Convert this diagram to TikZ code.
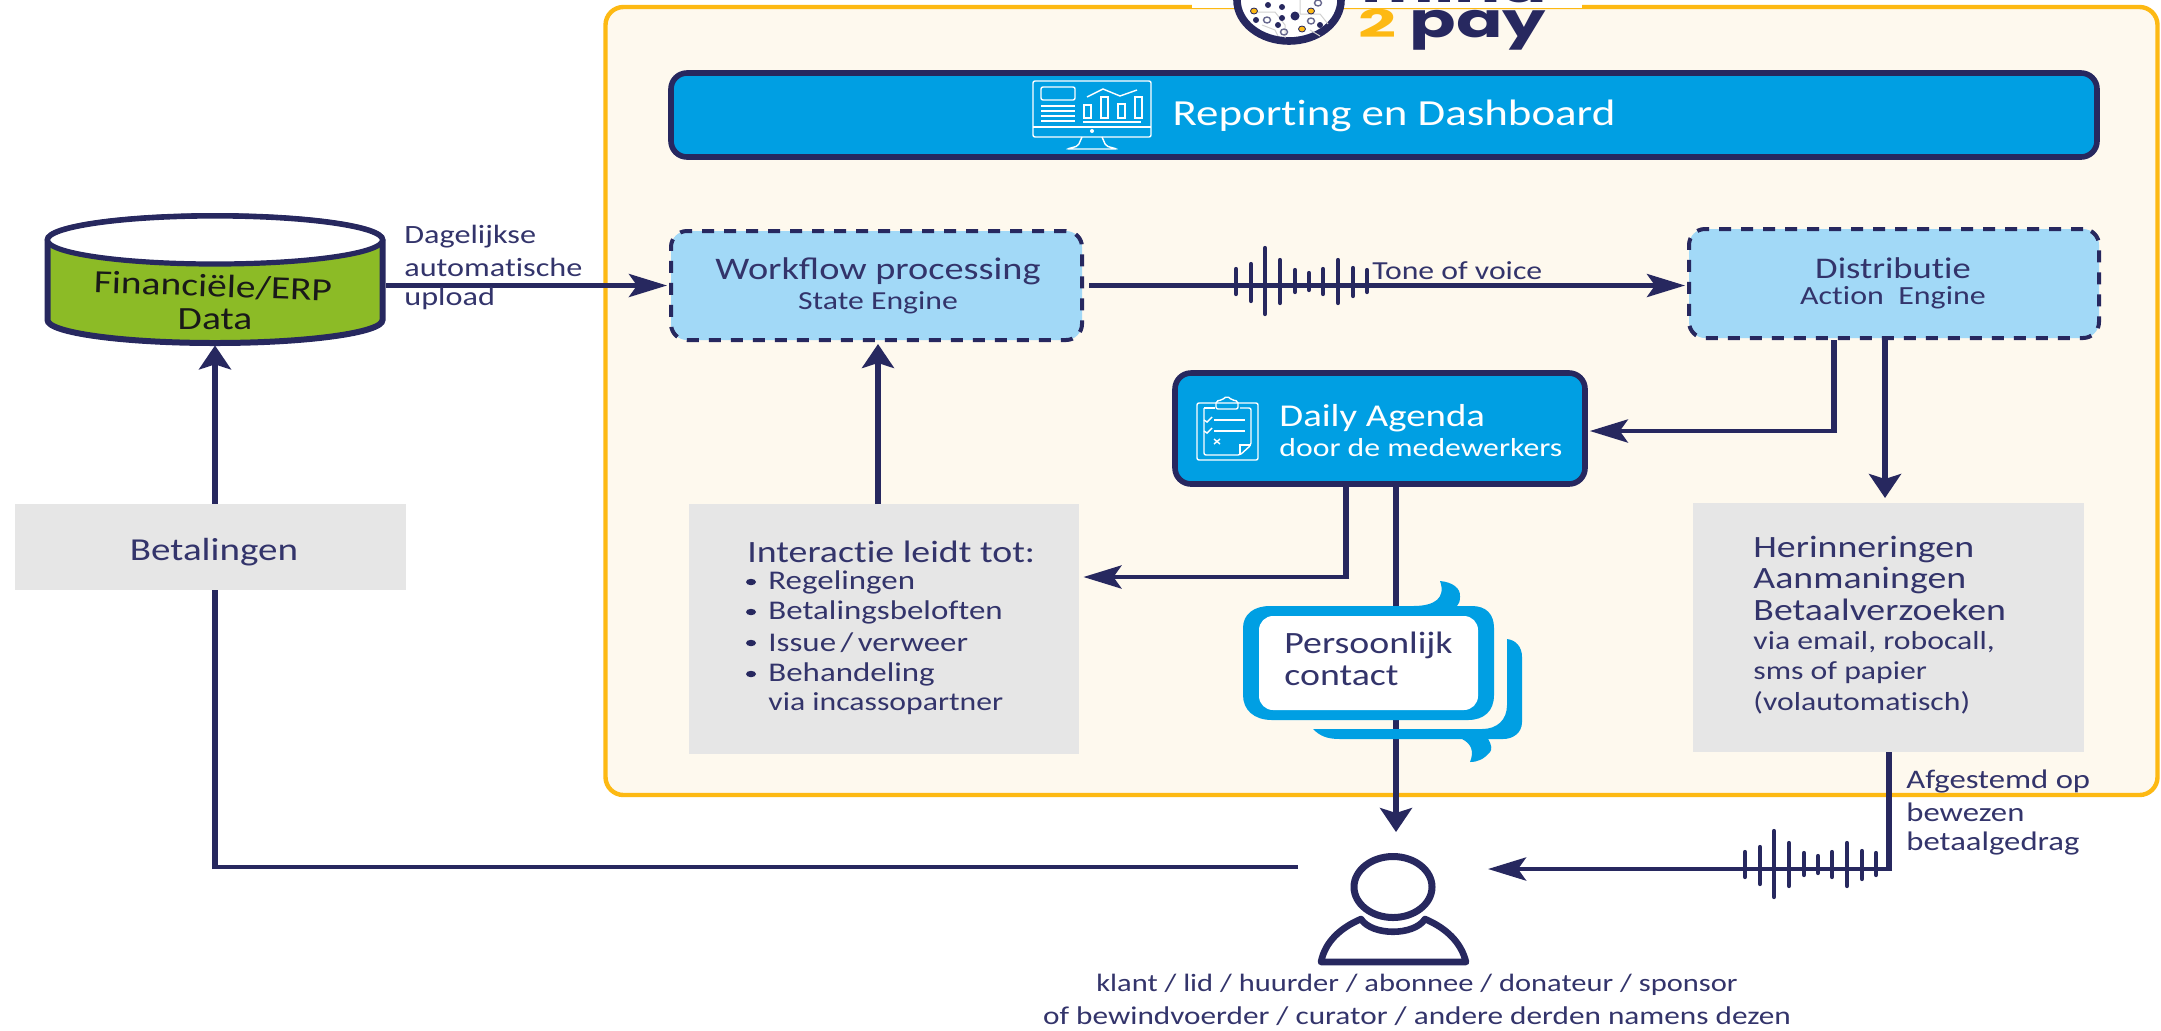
\documentclass[tikz,border=0pt]{standalone}
\usepackage{fontspec}
\setmainfont[FakeStretch=1.22,Ligatures=NoCommon]{Carlito}
\newfontfamily\logofont[FakeStretch=1.43]{Poppins}
\newfontfamily\logotwofont[FakeStretch=1.75]{Poppins}
\usetikzlibrary{arrows.meta,calc}
\definecolor{navy}{HTML}{27285F}
\definecolor{txt}{HTML}{33346B}
\definecolor{sky}{HTML}{009FE3}
\definecolor{pale}{HTML}{A2D9F7}
\definecolor{cream}{HTML}{FEF9EE}
\definecolor{gold}{HTML}{FDB913}
\definecolor{leaf}{HTML}{8CBB26}
\definecolor{stone}{HTML}{E6E6E6}
\tikzset{
  x=0.5pt,y=-0.5pt,
  hwire/.style={draw=navy,line width=2.4pt},
  vwire/.style={draw=navy,line width=3.4pt},
  harrow/.style={hwire,shorten >=1pt,-{Stealth[length=19pt,width=11.5pt,inset=4pt]}},
  varrow/.style={vwire,shorten >=1pt,-{Stealth[length=12pt,width=16pt,inset=2.5pt]}},
  solidbox/.style={draw=navy,line width=2.8pt,fill=sky,rounded corners=8pt,inner sep=0pt},
  dashbox/.style={draw=navy,line width=2pt,fill=pale,dash pattern=on 6pt off 5pt,rounded corners=8pt,inner sep=0pt},
  greybox/.style={fill=stone,inner sep=0pt},
  lab/.style={text=txt,inner sep=0pt,font=\fontsize{15.5}{17}\selectfont},
  labs/.style={text=txt,inner sep=0pt,font=\fontsize{13.2}{15}\selectfont},
  whitelab/.style={text=white,inner sep=0pt,font=\fontsize{15.9}{17}\selectfont},
  icon/.style={draw=white,line width=0.7pt,rounded corners=1pt},
  tick/.style={draw=navy,line width=2.1pt,line cap=round},
  logotext/.style={anchor=base west,inner sep=0pt,font=\logofont\bfseries\fontsize{24}{24}\selectfont},
}
\newcommand{\wavepic}[2]{%
  \foreach \wx/\wt/\wb in {0/17/8,15/22/15,29/38/28,44/26/17,59/16/6,73/13/4,87/17/8,102/26/17,117/18/10,131/16/6}
    \draw[tick] ({#1+\wx},{#2-\wt}) -- ({#1+\wx},{#2+\wb});}
\begin{document}
\begin{tikzpicture}
\clip (0,0) rectangle (2161,1030);
\fill[white] (0,0) rectangle (2161,1030);
% panel
\node[draw=gold,fill=cream,line width=2.2pt,rounded corners=9pt,minimum width=776pt,minimum height=394pt,inner sep=0pt] (panel) at (1381.5,401) {};
\fill[white] (1192,0) rectangle (1582,8);
% logo
\begin{scope}
\filldraw[fill=white,draw=navy,line width=3.8pt] (1289,0) ellipse [x radius=52,y radius=41];
\draw[black!18,line width=0.5pt] (1255,12) -- (1275,12) -- (1285,25) -- (1285,38) (1300,0) -- (1300,14) -- (1320,14) -- (1328,24) (1262,25) -- (1275,30) -- (1278,36) (1310,30) -- (1320,36);
\foreach \dx/\dy/\dr in {1268/5/3,1282/7/3,1256/20/3,1282/18/3,1295/16/4.5,1278/25/3,1320/25/3}
  \fill[navy] (\dx,\dy) ellipse [x radius=\dr,y radius=\dr];
\foreach \dx/\dy in {1254/11,1311/11,1302/29}
  \filldraw[fill=gold,draw=navy,line width=0.4pt] (\dx,\dy) ellipse [x radius=3.5,y radius=3];
\foreach \dx/\dy in {1267/20,1284/32,1311/21,1318/3}
  \draw[navy!70,line width=0.7pt] (\dx,\dy) ellipse [x radius=3.5,y radius=3];
\end{scope}
\node[logotext,text=navy] (logomind) at (1361,2) {mind};
\node[logotext,text=gold,font=\logotwofont\bfseries\fontsize{19}{20}\selectfont] (logotwo) at (1358,37) {2};
\node[logotext,text=navy] (logopay) at (1409,37) {pay};
% boxes
\node[solidbox,minimum width=713pt,minimum height=42pt] (report) at (1384,115) {};
\node[dashbox,minimum width=205.5pt,minimum height=54.5pt] (flow) at (876.5,285.5) {};
\node[dashbox,minimum width=205pt,minimum height=54.5pt] (distr) at (1894,283.5) {};
\node[solidbox,minimum width=205pt,minimum height=55.5pt] (daily) at (1380,428.5) {};
\node[greybox,minimum width=195pt,minimum height=125pt] (inter) at (884,629) {};
\node[greybox,minimum width=195.5pt,minimum height=124.5pt] (herin) at (1888.5,627.5) {};
\node[greybox,minimum width=195.5pt,minimum height=43pt] (betal) at (210.5,547) {};
% cylinder
\filldraw[fill=leaf,draw=navy,line width=3pt] (47.5,240) -- (47.5,320) arc [start angle=180,end angle=0,x radius=167.5,y radius=23] -- (382.5,240) arc [start angle=0,end angle=-180,x radius=167.5,y radius=24] -- cycle;
\filldraw[fill=white,draw=navy,line width=2.6pt] (215,240) ellipse [x radius=167.5,y radius=24];
\node[minimum width=171pt,minimum height=63.5pt,inner sep=0pt] (erp) at (215,279.5) {};
% junction coordinates
\coordinate (jdaily) at (1834,431);
\coordinate (jagenda) at (1346,577);
\coordinate (jcontact) at (1396,834);
\coordinate (jright) at (1885,500);
\coordinate (jherin) at (1889,869);
\coordinate (jpay) at (215,867);
\coordinate (jinter) at (878,504);
\coordinate (tipperson) at (1486,869);
\coordinate (tailperson) at (1298,867);
% connectors
\draw[harrow] (erp.east |- flow.west) -- (flow.west);
\draw[harrow] (flow.east) ++(5,0) -- (flow.east -| distr.west);
\draw[varrow] (jinter) -- (flow.south -| jinter);
\draw[varrow] (betal.north -| jpay) -- (erp.south -| jpay);
\draw[vwire] (distr.south -| jdaily) -- ($(jdaily)+(0,2)$);
\draw[harrow] ($(jdaily)+(3,0)$) -- (daily.east |- jdaily);
\draw[varrow] (distr.south -| jright) -- (jright);
\draw[vwire] (daily.south -| jagenda) -- ($(jagenda)+(0,2)$);
\draw[harrow] ($(jagenda)+(3,0)$) -- ($(inter.east |- jagenda)+(2,0)$);
\draw[varrow] (daily.south -| jcontact) -- (jcontact);
\draw[hwire] (tailperson) -- ($(jpay)+(-3,0)$);
\draw[vwire] (jpay |- 0,869) -- (jpay |- betal.south);
\draw[vwire] (herin.south -| jherin) -- ($(jherin)+(0,2)$);
\draw[harrow] ($(jherin)+(3,0)$) -- (tipperson);
\wavepic{1236}{286}
\wavepic{1745}{869}
% speech bubbles
\fill[sky] (1507,639) .. controls (1516,640) and (1522,647) .. (1522,657) -- (1522,722) .. controls (1522,733) and (1513,739) .. (1503,739) -- (1488,739) .. controls (1492,745) and (1492,750) .. (1490,752) .. controls (1484,759) and (1478,762) .. (1470,762) .. controls (1474,752) and (1472,744) .. (1462,739) -- (1340,739) .. controls (1327,739) and (1320,736) .. (1313,729) -- (1482,729) .. controls (1497,729) and (1507,720) .. (1507,705) -- cycle;
\fill[sky] (1270,606) -- (1413,606) .. controls (1435,606) and (1446,598) .. (1440,581) .. controls (1452,582) and (1461,588) .. (1460,597) .. controls (1460,601) and (1459,604) .. (1457,606) -- (1472,606) .. controls (1486,606) and (1494,614) .. (1494,628) -- (1494,695) .. controls (1494,711) and (1484,720) .. (1468,720) -- (1272,720) .. controls (1254,720) and (1243,710) .. (1243,695) -- (1243,628) .. controls (1243,614) and (1254,606) .. (1270,606) -- cycle;
\node[fill=white,rounded corners=7pt,minimum width=109.5pt,minimum height=47pt,inner sep=0pt] (bubble) at (1368.5,663) {};
% person
\draw[navy,line width=3.5pt] (1393,887) ellipse [x radius=39,y radius=30.5];
\draw[navy,line width=3.3pt,line join=round] (1321,962) .. controls (1325,942) and (1340,928) .. (1361,919) .. controls (1372,936) and (1414,936) .. (1425,919) .. controls (1446,928) and (1461,942) .. (1466,962) -- cycle;
\node[minimum width=76pt,minimum height=43pt,inner sep=0pt] (person) at (1393,900) {};
% dashboard icon
\begin{scope}
\draw[icon] (1033,81) rectangle (1151,137);
\draw[icon] (1033,127) -- (1151,127);
\draw[icon] (1082,137) -- (1078,146) -- (1067,149) -- (1117,149) -- (1106,146) -- (1102,137);
\draw[icon] (1041,87) rectangle (1075,100);
\foreach \ly in {106,111,116,121} \draw[white,line width=0.7pt] (1041,\ly) -- (1075,\ly);
\draw[white,line width=0.7pt] (1083,122) -- (1141,122);
\draw[white,line width=0.7pt] (1087,97) -- (1103,89) -- (1120,96) -- (1137,90);
\foreach \bx/\by in {1084/105,1101/97,1118/104,1135/97} \draw[white,line width=0.7pt] (\bx,118) rectangle ({\bx+7},\by);
\fill[white] (1092,131) circle [radius=2];
\end{scope}
% clipboard icon
\begin{scope}
\draw[icon] (1197,403) rectangle (1258,460);
\draw[icon] (1204,408) -- (1204,455) -- (1240,455) -- (1251,445) -- (1251,408) -- (1240,408);
\draw[icon] (1215,408) -- (1204,408);
\draw[icon] (1216,409) -- (1216,401) -- (1222,400) -- (1227,396) -- (1232,400) -- (1238,401) -- (1238,409) -- cycle;
\draw[white,line width=0.7pt] (1240,455) -- (1240,445) -- (1251,445);
\foreach \ly in {420,431} {\draw[white,line width=0.7pt] (1214,\ly) -- (1245,\ly); \draw[white,line width=0.7pt] (1200,\ly) ++(4,0) -- ++(3,2) -- ++(5,-5);}
\draw[white,line width=0.7pt] (1214,439) -- (1220,444) (1220,439) -- (1214,444);
\end{scope}
% texts
\node[whitelab,font=\fontsize{18.4}{19}\selectfont] (treport) at (1394,116) {Reporting en Dashboard};
\node[lab,font=\fontsize{15.7}{17}\selectfont] (tflow) at (878,271) {Workﬂow processing};
\node[labs,font=\fontsize{13}{15}\selectfont] (tstate) at (878,303) {State Engine};
\node[lab,font=\fontsize{15}{16}\selectfont] (tdistr) at (1893,268) {Distributie};
\node[labs,font=\fontsize{13.1}{15}\selectfont] (taction) at (1893,298) {Action\ \ Engine};
\node[whitelab,anchor=west] (tdaily) at (1279,418) {Daily Agenda};
\node[whitelab,anchor=west,font=\fontsize{13}{15}\selectfont] (tdoor) at (1279,448) {door de medewerkers};
\node[lab,anchor=west] (tpers) at (1284,645) {Persoonlijk};
\node[lab,anchor=west] (tcont) at (1284,676) {contact};
\node[lab,font=\fontsize{16}{17}\selectfont] (tbetal) at (214,552) {Betalingen};
\node[lab,anchor=west] (tinter) at (747,552) {Interactie leidt tot:};
\foreach \ly/\lt/\ln in {582/Regelingen/ta,612/Betalingsbeloften/tb,643/{Issue\,/\,verweer}/tc,674/Behandeling/td} {
  \fill[navy] (751,\ly) ellipse [x radius=5,y radius=3.2];
  \node[labs,anchor=west,font=\fontsize{13.5}{15}\selectfont] (\ln) at (768,\ly) {\lt};
}
\node[labs,anchor=west,font=\fontsize{13}{15}\selectfont] (te) at (768,704) {via incassopartner};
\node[lab,anchor=west] (h1) at (1753,549) {Herinneringen};
\node[lab,anchor=west] (h2) at (1753,580) {Aanmaningen};
\node[lab,anchor=west] (h3) at (1753,610) {Betaalverzoeken};
\node[labs,anchor=west,font=\fontsize{13}{15}\selectfont] (h4) at (1753,642) {via email, robocall,};
\node[labs,anchor=west,font=\fontsize{13}{15}\selectfont] (h5) at (1753,673) {sms of papier};
\node[labs,anchor=west,font=\fontsize{13}{15}\selectfont] (h6) at (1753,703) {(volautomatisch)};
\node[labs,anchor=west,font=\fontsize{13.4}{15}\selectfont] (a1) at (1906,781) {Afgestemd op};
\node[labs,anchor=west,font=\fontsize{13.4}{15}\selectfont] (a2) at (1906,812) {bewezen};
\node[labs,anchor=west,font=\fontsize{13.4}{15}\selectfont] (a3) at (1906,843) {betaalgedrag};
\node[labs,anchor=west] (d1) at (404,237) {Dagelijkse};
\node[labs,anchor=west] (d2) at (404,267) {automatische};
\node[labs,anchor=west] (d3) at (404,298) {upload};
\node[labs,anchor=west,font=\fontsize{13}{15}\selectfont] (ttone) at (1372,271) {Tone of voice};
\node[inner sep=0pt,text=black!90,font=\fontsize{16.2}{18}\selectfont,rotate=-2] (terp) at (213,286) {Financiële/ERP};
\node[inner sep=0pt,text=black!90,font=\fontsize{16.2}{18}\selectfont] (terp2) at (215,319) {Data};
\node[labs,font=\fontsize{12.5}{15}\selectfont] (c1) at (1417,985) {klant / lid / huurder / abonnee / donateur / sponsor};
\node[labs,font=\fontsize{12.8}{15}\selectfont] (c2) at (1417,1016) {of bewindvoerder / curator / andere derden namens dezen};
\end{tikzpicture}
\end{document}
